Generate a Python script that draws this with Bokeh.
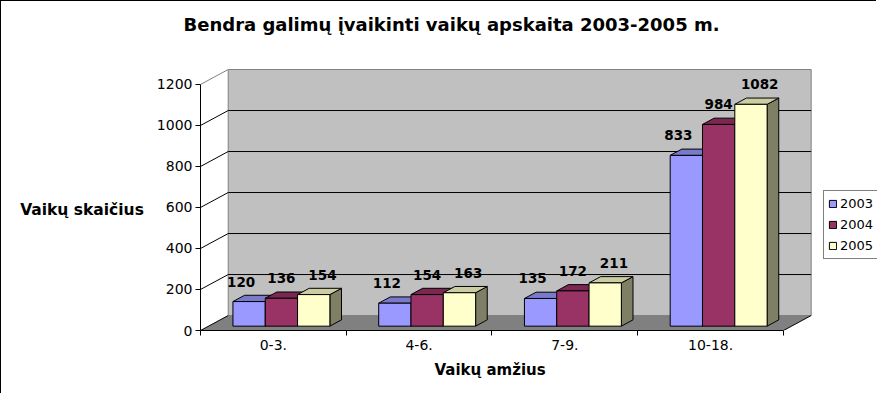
from bokeh.plotting import figure
from bokeh.models import FixedTicker, Legend, LegendItem, Title
from bokeh.embed import file_html
from bokeh.resources import INLINE
from bokeh.core.properties import value

# ---- data ----
categories = ["0-3.", "4-6.", "7-9.", "10-18."]
years = ["2003", "2004", "2005"]
values_2003 = [120, 112, 135, 833]
values_2004 = [136, 154, 172, 984]
values_2005 = [154, 163, 211, 1082]
y_ticks = [0, 200, 400, 600, 800, 1000, 1200]
title_text = "Bendra galimų įvaikinti vaikų apskaita 2003-2005 m."
x_title = "Vaikų amžius"
y_title = "Vaikų skaičius"

series = [values_2003, values_2004, values_2005]
front_colors = ["#9999FF", "#993366", "#FFFFCC"]

# ---- 3D look / layout parameters (styling) ----
N = len(categories)
Y_MAX = y_ticks[-1]
DX = 0.19      # depth offset of back wall, x units
DY = 73        # depth offset of back wall, y units
F0 = 0.29      # depth fraction of bar front faces
BD = 0.42      # bar depth fraction
W = 0.665 / 3  # bar width
GAP = (1 - 3 * W) / 2
LABEL_SHIFT = [-0.055, 0.0, 0.06]
X_END = 4.645  # frame reaches the right edge (room for the legend)
FONT = "DejaVu Sans"


def shade(hex_color, k):
    h = hex_color.lstrip("#")
    r, g, b = (int(h[i:i + 2], 16) for i in (0, 2, 4))
    return "#%02X%02X%02X" % (int(r * k), int(g * k), int(b * k))


p = figure(width=876, height=393,
           x_range=(0, X_END), y_range=(0, Y_MAX + DY + 5),
           output_backend="svg", toolbar_location=None,
           min_border_left=199, min_border_right=0,
           min_border_top=67, min_border_bottom=64,
           title=title_text)
p.styles = {"border-left": "1px solid #000000", "border-top": "1px solid #000000"}
p.outline_line_color = None
p.background_fill_color = "white"
p.border_fill_color = "white"
p.xgrid.visible = False
p.ygrid.visible = False

p.title.align = "left"
p.title.offset = -17
p.title.standoff = 10
p.title.text_font = FONT
p.title.text_font_style = "bold"
p.title.text_font_size = "18px"
p.title.text_color = "black"
# empty spacer between the frame and the chart title
p.add_layout(Title(text=" ", text_font_size="1px", standoff=26), "above")

# back wall
p.quad(left=[DX], right=[N + DX], bottom=[DY], top=[Y_MAX + DY],
       fill_color="#C0C0C0", line_color="#808080", line_width=1)
# floor
p.patch(x=[0, N, N + DX, DX], y=[0, 0, DY, DY],
        fill_color="#808080", line_color=None)
# gridlines on back wall
grid_vals = y_ticks[1:-1]
p.segment(x0=[DX] * len(grid_vals), y0=[v + DY for v in grid_vals],
          x1=[N + DX] * len(grid_vals), y1=[v + DY for v in grid_vals],
          line_color="black", line_width=1)
# diagonals on side wall
diag_vals = y_ticks[:-1]
p.segment(x0=[0] * len(diag_vals), y0=diag_vals,
          x1=[DX] * len(diag_vals), y1=[v + DY for v in diag_vals],
          line_color="black", line_width=1)
p.segment(x0=[0], y0=[Y_MAX], x1=[DX], y1=[Y_MAX + DY],
          line_color="#808080", line_width=1)
# right floor edge
p.segment(x0=[N], y0=[0], x1=[N + DX], y1=[DY], line_color="black", line_width=1)

# bars
front_renderers = []
for s, vals in enumerate(series):
    xl = [c + GAP + s * W + F0 * DX for c in range(N)]
    xr = [x + W for x in xl]
    yb = [F0 * DY] * N
    yt = [F0 * DY + v for v in vals]
    ddx, ddy = BD * DX, BD * DY
    side_xs = [[r, r + ddx, r + ddx, r] for r in xr]
    side_ys = [[b, b + ddy, t + ddy, t] for b, t in zip(yb, yt)]
    top_xs = [[l, r, r + ddx, l + ddx] for l, r in zip(xl, xr)]
    top_ys = [[t, t, t + ddy, t + ddy] for t in yt]
    p.patches(xs=side_xs, ys=side_ys, fill_color=shade(front_colors[s], 0.5),
              line_color="black", line_width=1)
    p.patches(xs=top_xs, ys=top_ys, fill_color=shade(front_colors[s], 0.8),
              line_color="black", line_width=1)
    r = p.quad(left=xl, right=xr, bottom=yb, top=yt,
               fill_color=front_colors[s], line_color="black", line_width=1)
    front_renderers.append(r)

# value labels
for s, vals in enumerate(series):
    lx = [c + GAP + (s + 0.5) * W + F0 * DX + LABEL_SHIFT[s] for c in range(N)]
    ly = [F0 * DY + v for v in vals]
    p.text(x=lx, y=ly, text=[str(v) for v in vals],
           text_align="center", text_baseline="middle", y_offset=-20,
           text_font=value(FONT), text_font_style="bold",
           text_font_size="13.5px", text_color="black")

legend = Legend(items=[LegendItem(label=years[s], renderers=[front_renderers[s]])
                       for s in range(len(years))],
                location=(623, 71))
legend.border_line_color = "black"
legend.border_line_width = 1
legend.background_fill_color = "white"
legend.background_fill_alpha = 1
legend.label_text_font = FONT
legend.label_text_font_size = "13px"
legend.label_text_color = "black"
legend.glyph_width = 9
legend.glyph_height = 9
legend.label_height = 17
legend.label_standoff = 3
legend.spacing = 4
legend.padding = 4
legend.margin = 0
p.add_layout(legend)

# axes
xa = p.xaxis[0]
xa.ticker = FixedTicker(ticks=[c + 0.5 for c in range(N)],
                        minor_ticks=list(range(N + 1)))
xa.major_label_overrides = {c + 0.5: categories[c] for c in range(N)}
xa.bounds = (0, N)
xa.major_tick_out = 0
xa.major_tick_in = 0
xa.minor_tick_out = 5
xa.minor_tick_in = 0
xa.minor_tick_line_color = "black"
xa.axis_line_color = "black"
xa.major_label_standoff = 4
xa.major_label_text_font = FONT
xa.major_label_text_font_size = "14px"
xa.major_label_text_color = "black"

ya = p.yaxis[0]
ya.ticker = FixedTicker(ticks=y_ticks, minor_ticks=[])
ya.bounds = (0, Y_MAX)
ya.major_tick_out = 5
ya.major_tick_in = 0
ya.minor_tick_out = 0
ya.minor_tick_in = 0
ya.major_tick_line_color = "black"
ya.axis_line_color = "black"
ya.major_label_standoff = 3
ya.major_label_text_font = FONT
ya.major_label_text_font_size = "14px"
ya.major_label_text_color = "black"
ya.axis_label = "\n" + y_title
ya.axis_label_orientation = "horizontal"
ya.axis_label_text_font = FONT
ya.axis_label_text_font_style = "bold"
ya.axis_label_text_font_size = "15.5px"
ya.axis_label_text_color = "black"
ya.axis_label_standoff = 10

# x-axis title (below the axis)
p.add_layout(Title(text=x_title, align="left", offset=234, standoff=16,
                   vertical_align="top",
                   text_font=FONT, text_font_style="bold",
                   text_font_size="15px", text_color="black"), "below")

open("out.html", "w").write(file_html(p, INLINE))
